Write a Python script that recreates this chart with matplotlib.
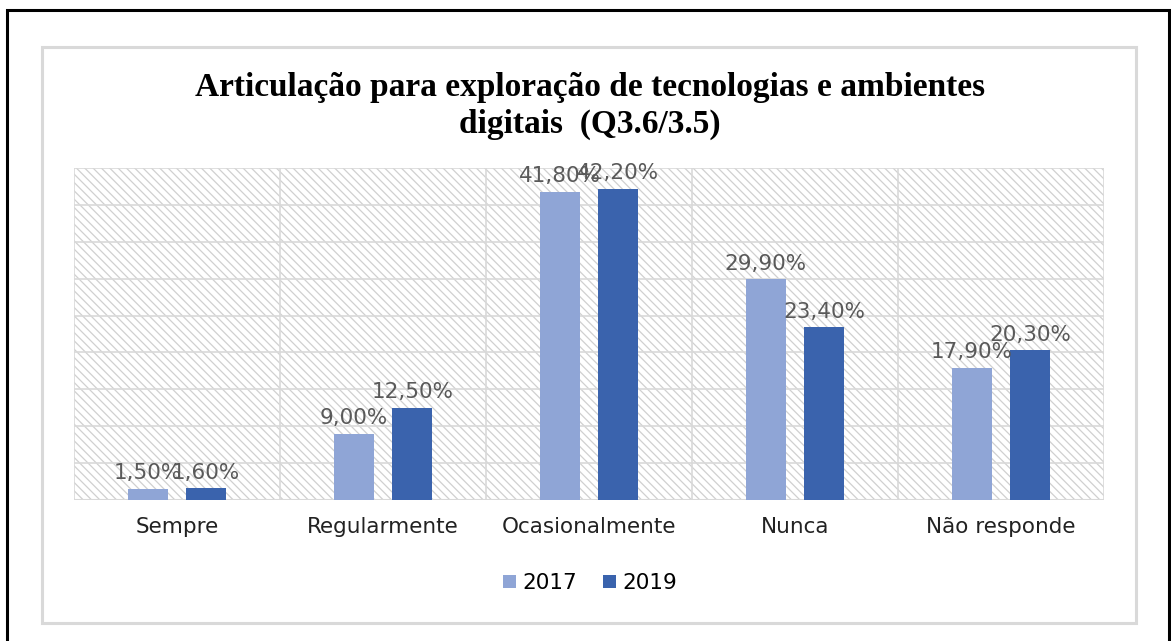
import matplotlib.pyplot as plt
from matplotlib.patches import Rectangle
import numpy as np

categories = ['Sempre', 'Regularmente', 'Ocasionalmente', 'Nunca', 'Não responde']
years = ['2017', '2019']
vals_2017 = [1.5, 9.0, 41.8, 29.9, 17.9]
vals_2019 = [1.6, 12.5, 42.2, 23.4, 20.3]

light = '#8FA5D6'
dark = '#3A63AD'
label_color = '#595959'

plt.rcParams['hatch.linewidth'] = 0.9
plt.rcParams['hatch.color'] = '#D0D0D0'

fig = plt.figure(figsize=(11.71, 6.41), dpi=100)

# outer black frame and inner gray chart border
fig.patches.append(Rectangle((7/1171, -0.02), (1169-7)/1171, 1.02 - 10/641,
	transform=fig.transFigure, fill=False, edgecolor='black', linewidth=2.2))
fig.patches.append(Rectangle((42/1171, 1 - 623/641), (1136-42)/1171, (623-47)/641,
	transform=fig.transFigure, fill=False, edgecolor='#D9D9D9', linewidth=2.2))

ax = fig.add_axes([74/1171, 1 - 500/641, (1104-74)/1171, (500-168)/641])
x = np.arange(len(categories))
w = 0.195
off = 0.142

ax.set_xlim(-0.5, len(categories) - 0.5)
ax.set_ylim(0, 45)

# hatched background
ax.add_patch(Rectangle((0, 0), 1, 1, transform=ax.transAxes, facecolor='white',
	hatch='\\\\\\\\', edgecolor='#D0D0D0', linewidth=0, zorder=0))

for y in np.arange(5, 46, 5):
	ax.axhline(y, color='#D9D9D9', linewidth=1.2, zorder=1)
for xv in np.arange(-0.5, len(categories), 1):
	ax.axvline(xv, color='#D9D9D9', linewidth=1.2, zorder=1)

b1 = ax.bar(x - off, vals_2017, w, color=light, label=years[0], zorder=2)
b2 = ax.bar(x + off, vals_2019, w, color=dark, label=years[1], zorder=2)

for bars, vals in [(b1, vals_2017), (b2, vals_2019)]:
	for b, v in zip(bars, vals):
		txt = ('%.2f' % v).replace('.', ',') + '%'
		ax.annotate(txt, (b.get_x() + b.get_width() / 2, v), xytext=(0, 4),
			textcoords='offset points', ha='center', va='bottom',
			fontsize=15.5, color=label_color, zorder=3)

ax.axhline(0, color='#D9D9D9', linewidth=1.5, zorder=1)
for s in ax.spines.values():
	s.set_visible(False)
ax.set_yticks([])
ax.set_xticks(x)
ax.set_xticklabels(categories, fontsize=15.5, color='#222222')
ax.tick_params(axis='x', length=0, pad=12)

fig.text(590/1171, 1 - 106/641, 'Articulação para exploração de tecnologias e ambientes\ndigitais  (Q3.6/3.5)',
	ha='center', va='center', fontsize=24, fontweight='bold',
	family='Liberation Serif', linespacing=1.2)

fig.legend(handles=[b1, b2], labels=years, loc='center', bbox_to_anchor=(590/1171, 1 - 583/641),
	ncol=2, frameon=False, fontsize=15.5, handlelength=0.6, handleheight=0.6,
	handletextpad=0.3, columnspacing=1.2)

fig.savefig('out.png', dpi=100)
